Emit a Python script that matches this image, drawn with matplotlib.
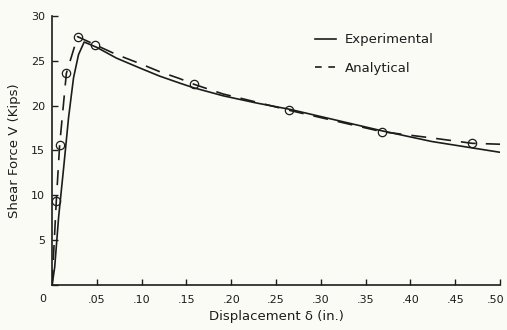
import matplotlib.pyplot as plt
import matplotlib.transforms as mtransforms
from matplotlib.lines import Line2D

# Shear force vs. displacement, test data and analytical prediction
exp_disp = [0.0, 0.001, 0.003, 0.0074, 0.013, 0.0185, 0.024, 0.0296, 0.0359,
            0.05, 0.072, 0.098, 0.120, 0.143, 0.158, 0.191, 0.228, 0.265,
            0.368, 0.424, 0.50]
exp_shear = [0.0, 0.6, 2.0, 7.6, 13.1, 18.7, 23.1, 25.7, 27.1,
             26.5, 25.3, 24.2, 23.3, 22.5, 22.0, 21.1, 20.3, 19.6,
             17.2, 16.0, 14.8]

ana_disp = [0.0, 0.0048, 0.0085, 0.016, 0.0285, 0.048, 0.072, 0.098, 0.120,
            0.143, 0.158, 0.191, 0.228, 0.264, 0.368, 0.424, 0.469, 0.50]
ana_shear = [0.0, 9.4, 15.6, 23.6, 27.7, 26.8, 25.7, 24.7, 23.8,
             23.0, 22.4, 21.3, 20.4, 19.5, 17.1, 16.4, 15.8, 15.7]
# points on the analytical curve that carry a circle marker
circle_idx = [1, 2, 3, 4, 5, 10, 13, 14, 16]

xticks = [0.05, 0.10, 0.15, 0.20, 0.25, 0.30, 0.35, 0.40, 0.45, 0.50]
xticklabels = ['.05', '.10', '.15', '.20', '.25', '.30', '.35', '.40', '.45', '.50']
yticks = [5, 10, 15, 20, 25, 30]

ink = '#1c1c1c'
paper = '#fbfbf6'

fig = plt.figure(figsize=(5.07, 3.30), dpi=100, facecolor=paper)
ax = fig.add_axes([0.1026, 0.1364, 0.8836, 0.8151], facecolor=paper)

ax.plot(exp_disp, exp_shear, color=ink, lw=1.2, solid_joinstyle='round')
ax.plot(ana_disp, ana_shear, color=ink, lw=1.2, dashes=(9, 6))
ax.plot([ana_disp[i] for i in circle_idx], [ana_shear[i] for i in circle_idx],
        ls='none', marker='o', ms=6, mfc='none', mec=ink, mew=0.9)

ax.set_xlim(0, 0.5)
ax.set_ylim(0, 30)
for s in ['top', 'right']:
    ax.spines[s].set_visible(False)
for s in ['left', 'bottom']:
    ax.spines[s].set_color(ink)
    ax.spines[s].set_linewidth(1.2)

ax.set_xticks([0.0] + xticks)
ax.set_xticklabels([''] + xticklabels)
ax.set_yticks([0] + yticks)
ax.set_yticklabels([''] + [str(v) for v in yticks])
ax.tick_params(direction='in', length=4, width=1.0, color=ink,
               labelsize=8, labelcolor=ink)
ax.tick_params(axis='x', pad=7)
ax.tick_params(axis='y', pad=5)
# keep the last x label inside the figure
last = ax.get_xticklabels()[-1]
last.set_transform(last.get_transform() +
                   mtransforms.ScaledTranslation(-4 / 100, 0, fig.dpi_scale_trans))
ax.annotate('0', xy=(0, 0), xytext=(-7, -10), textcoords='offset points',
            ha='center', va='center', fontsize=8, color=ink)

ax.set_xlabel('Displacement δ (in.)', fontsize=9.5, color=ink, labelpad=4)
ax.set_ylabel('Shear Force V (Kips)', fontsize=9.5, color=ink, labelpad=7)

handles = [Line2D([], [], color=ink, lw=1.2),
           Line2D([], [], color=ink, lw=1.2, dashes=(4, 4))]
ax.legend(handles, ['Experimental', 'Analytical'], loc='upper left',
          bbox_to_anchor=(0.56, 0.98), frameon=False, fontsize=9.5,
          handlelength=1.6, handletextpad=0.7, labelspacing=1.2,
          labelcolor=ink)

fig.savefig('out.png', dpi=100, facecolor=paper)
